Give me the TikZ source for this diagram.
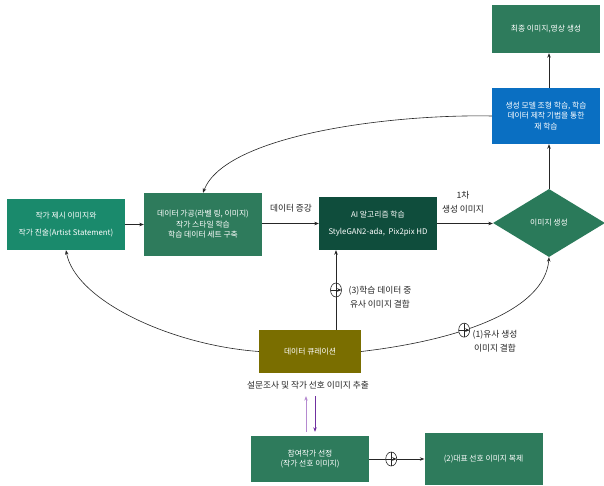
\documentclass[tikz,border=0pt]{standalone}
\usepackage{fontspec}
\setmainfont{Noto Sans CJK KR}
\usetikzlibrary{arrows.meta,shapes.geometric}
\definecolor{cSrc}{HTML}{1A8A6C}
\definecolor{cProc}{HTML}{2E7B5C}
\definecolor{cAI}{HTML}{0F4D3C}
\definecolor{cDia}{HTML}{2A7A5A}
\definecolor{cBlue}{HTML}{0A6FC2}
\definecolor{cOlive}{HTML}{7A6E00}
\definecolor{purL}{HTML}{B58AD0}
\definecolor{purD}{HTML}{7030A0}
\begin{document}
\begin{tikzpicture}[x=1pt,y=-1pt,
  font=\fontsize{7.8}{10.5}\selectfont,
  box/.style={text=white, align=center, inner sep=1pt},
  lbl/.style={font=\fontsize{8.7}{14}\selectfont, text=black!85, align=center, inner sep=1pt},
  arr/.style={-{Stealth[length=4.5pt,width=3.5pt]}, line width=0.6pt, draw=black!85},
  oplus/.style={ellipse, draw=black!85, line width=0.6pt, fill=white, minimum width=11pt, minimum height=14pt, inner sep=0pt,
    path picture={\draw[line width=0.6pt, black!85] (path picture bounding box.north) -- (path picture bounding box.south)
      (path picture bounding box.west) -- (path picture bounding box.east);}}
]
\useasboundingbox[fill=white] (0,0) rectangle (604,486);

% boxes
\node[box, fill=cSrc, minimum width=118pt, minimum height=51pt] (src) at (66,224.5)
  {작가 제시 이미지와\\[6pt]작가 진술(Artist Statement)};
\node[box, fill=cProc, minimum width=118pt, minimum height=63pt] (proc) at (203,224.5)
  {데이터 가공(라벨 링, 이미지)\\작가 스타일 학습\\학습 데이터 세트 구축};
\node[box, fill=cAI, minimum width=118pt, minimum height=53pt] (ai) at (378,223.5)
  {AI 알고리즘 학습\\[6pt]StyleGAN2-ada,\ \ Pix2pix HD};
\node[diamond, box, fill=cDia, minimum width=112pt, minimum height=68pt, inner sep=0pt] (dia) at (549,223)
  {이미지 생성};
\node[box, fill=cProc, minimum width=108pt, minimum height=48pt] (final) at (546,29)
  {최종 이미지,영상 생성};
\node[box, fill=cBlue, minimum width=108pt, minimum height=56pt] (blue) at (546,116)
  {생성 모델 조형 학습, 학습\\데이터 제작 기법을 통한\\재 학습};
\node[box, fill=cOlive, minimum width=102pt, minimum height=43pt] (cur) at (310,351.5)
  {데이터 큐레이션};
\node[box, fill=cProc, minimum width=118pt, minimum height=46pt] (sel) at (310,459)
  {참여작가 선정\\(작가 선호 이미지)};
\node[box, fill=cProc, minimum width=118pt, minimum height=52pt] (rep) at (483.5,459)
  {(2)대표 선호 이미지 복제};

% labels
\node[lbl] (aug) at (291,208) {데이터 증강};
\node[lbl] (first) at (463,202) {1차\\생성 이미지};
\node[lbl] (surv) at (308,385) {설문조사 및 작가 선호 이미지 추출};
\node[lbl] (l3) at (380,297) {(3)학습 데이터 중\\유사 이미지 결합};
\node[lbl] (l1) at (495,341) {(1)유사 생성\\이미지 결합};

% straight connectors
\draw[arr] (src.east) -- (src.east -| proc.west);
\draw[arr] (proc.east |- ai.west) -- (ai.west);
\draw[arr] (ai.east) -- (ai.east -| dia.west);
\draw[arr] (dia.north) -- (dia.north |- blue.south);
\draw[arr] (dia.north |- blue.north) -- (dia.north |- final.south);

% curves
\draw[arr] (blue.west) .. controls (390,114) and (225,135) .. (proc.north);
\draw[arr] (cur.west) .. controls (170,345) and (75,300) .. (src.south);
\draw[arr] (cur.east) .. controls (460,340) and (545,310) .. node[oplus, pos=0.38] (p1) {} (dia.south);

% vertical from curation to AI
\coordinate (vx) at (336,0);
\draw[arr] (cur.north -| vx) -- node[oplus, pos=0.5] (p3) {} (ai.south -| vx);

% purple arrows
\draw[arr, draw=purL, fill=purL, shorten <=4pt, shorten >=6pt] ([xshift=-4pt]sel.north) -- ([xshift=-4pt]sel.north |- surv.south);
\draw[arr, draw=purD, fill=purD, shorten <=6pt, shorten >=4pt] ([xshift=5pt]sel.north |- surv.south) -- ([xshift=5pt]sel.north);

% selection to representative
\draw[arr] (sel.east) -- node[oplus, pos=0.4] (p2) {} (rep.west);
\end{tikzpicture}
\end{document}
